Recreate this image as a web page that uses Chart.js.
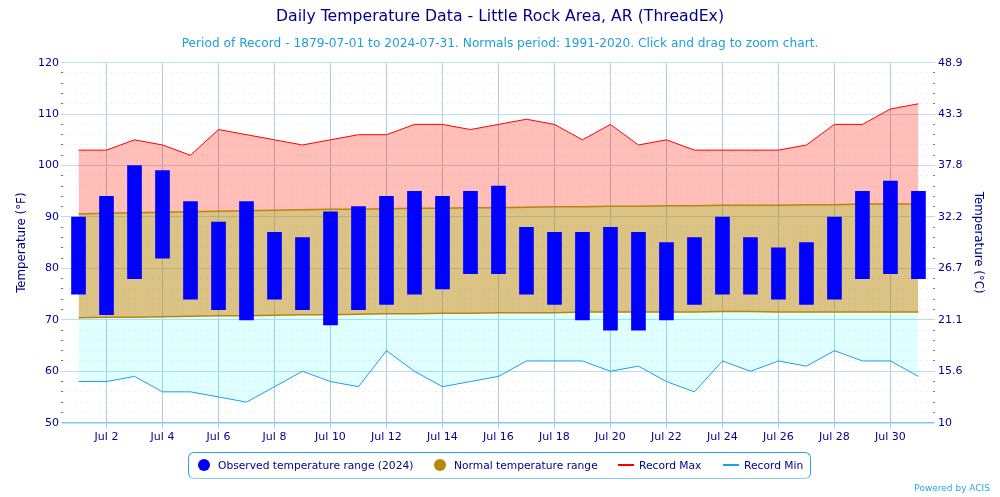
<!DOCTYPE html>
<html>
<head>
<meta charset="utf-8">
<script src="https://cdn.jsdelivr.net/npm/chart.js@4"></script>
<style>
  html, body { margin: 0; padding: 0; background: #fff; overflow: hidden; }
  #wrap { position: relative; width: 1000px; height: 497px; font-family: "DejaVu Sans", sans-serif; }
  #chart { display: block; }
  #legend { position: absolute; left: 188px; top: 452px; width: 621px; height: 25px;
    border: 1px solid #2aa5e8; border-bottom-color: #8ccdf2; border-radius: 6px; color: #00008b; font-size: 10.7px; }
  #legend span { position: absolute; top: 6px; white-space: nowrap; }
  #legend i { position: absolute; display: block; }
  #credit { position: absolute; right: 10px; top: 483px; color: #2aa5e8; font-size: 9px; }
</style>
</head>
<body>
<div id="wrap">
  <canvas id="chart" width="1000" height="497"></canvas>
  <div id="legend"></div>
  <div id="credit">Powered by ACIS</div>
</div>
<script>
// values, one per day of July
const days = [1,2,3,4,5,6,7,8,9,10,11,12,13,14,15,16,17,18,19,20,21,22,23,24,25,26,27,28,29,30,31];
const obsMax = [90,94,100,99,93,89,93,87,86,91,92,94,95,94,95,96,88,87,87,88,87,85,86,90,86,84,85,90,95,97,95];
const obsMin = [75,71,78,82,74,72,70,74,72,69,72,73,75,76,79,79,75,73,70,68,68,70,73,75,75,74,73,74,78,79,78];
const recordMax = [103,103,105,104,102,107,106,105,104,105,106,106,108,108,107,108,109,108,105,108,104,105,103,103,103,103,104,108,108,111,112];
const recordMin = [58,58,59,56,56,55,54,57,60,58,57,64,60,57,58,59,62,62,62,60,61,58,56,62,60,62,61,64,62,62,59];
const normalMax = [90.6,90.7,90.8,90.9,91,91.1,91.2,91.3,91.4,91.5,91.5,91.6,91.7,91.7,91.8,91.8,91.9,92,92,92.1,92.1,92.2,92.2,92.3,92.3,92.3,92.4,92.4,92.5,92.5,92.5];
const normalMin = [70.4,70.5,70.5,70.6,70.7,70.8,70.8,70.9,71,71,71.1,71.2,71.2,71.3,71.3,71.4,71.4,71.4,71.5,71.5,71.5,71.5,71.5,71.6,71.6,71.5,71.5,71.5,71.5,71.5,71.5];
const xTickDays = [2,4,6,8,10,12,14,16,18,20,22,24,26,28,30];
const yTicks = [50,52,54,56,58,60,62,64,66,68,70,72,74,76,78,80,82,84,86,88,90,92,94,96,98,100,102,104,106,108,110,112,114,116,118,120];
const seriesNames = ["Observed temperature range (2024)", "Normal temperature range", "Record Max", "Record Min"];

const navy = "#00008b";
const gridBlue = "#bcdcf0";
const gridBlueX = "#a8cce6";

function pts(arr) {
  return arr.map(function (v, i) { return { x: days[i], y: v }; });
}

const isMajor = function (v) { return v % 10 === 0; };
const yGrid = {
  color: function (c) { return isMajor(c.tick.value) ? gridBlue : "rgba(170,170,170,0.35)"; },
  lineWidth: 1,
  tickColor: function (c) { return isMajor(c.tick.value) ? gridBlue : "#777"; },
  tickLength: 2,
  tickWidth: 1
};
const yBorder = {
  display: false,
  dash: function (c) { return c.tick && isMajor(c.tick.value) ? [] : [1, 5]; }
};

const config = {
  type: "bar",
  data: {
    datasets: [
      { type: "bar", label: seriesNames[0], data: days.map(function (d, i) { return { x: d, y: [obsMin[i], obsMax[i]] }; }),
        backgroundColor: "#0000ff", borderWidth: 0, barThickness: 14, order: 1 },
      { type: "line", label: seriesNames[2], data: pts(recordMax), borderColor: "#ff0000", borderWidth: 1,
        backgroundColor: "rgba(255,20,0,0.28)", fill: { target: 3 }, pointRadius: 0, tension: 0, order: 5 },
      { type: "line", label: seriesNames[3], data: pts(recordMin), borderColor: "#1e9ee8", borderWidth: 1,
        backgroundColor: "rgba(0,255,255,0.12)", fill: { target: 4 }, pointRadius: 0, tension: 0, order: 5 },
      { type: "line", label: "Normal max", data: pts(normalMax), borderColor: "#b8860b", borderWidth: 1.5,
        backgroundColor: "rgba(184,134,11,0.5)", fill: { target: 4 }, pointRadius: 0, tension: 0, order: 4 },
      { type: "line", label: "Normal min", data: pts(normalMin), borderColor: "#b8860b", borderWidth: 1.5,
        fill: false, pointRadius: 0, tension: 0, order: 4 }
    ]
  },
  options: {
    responsive: false,
    animation: false,
    layout: { padding: { top: 0, bottom: 44.3, left: 0, right: 0 } },
    plugins: {
      legend: { display: false },
      tooltip: { enabled: false },
      title: { display: true, text: "Daily Temperature Data - Little Rock Area, AR (ThreadEx)", color: navy,
        font: { family: "DejaVu Sans", size: 15.7, weight: "normal" }, padding: { top: 8, bottom: 10 } },
      subtitle: { display: true, text: "Period of Record - 1879-07-01 to 2024-07-31. Normals period: 1991-2020. Click and drag to zoom chart.",
        color: "#1e9ed8", font: { family: "DejaVu Sans", size: 12.2, weight: "normal" }, padding: { top: 0, bottom: 11.2 } }
    },
    scales: {
      x: {
        type: "linear", min: 0.446, max: 31.52, offset: false,
        afterBuildTicks: function (s) { s.ticks = xTickDays.map(function (v) { return { value: v }; }); },
        afterFit: function (s) { s.height = 30; },
        grid: { color: gridBlueX, tickColor: gridBlueX, tickLength: 6, offset: false },
        border: { color: "#7ccaf0", width: 1.5 },
        ticks: { color: navy, font: { family: "DejaVu Sans", size: 11 }, maxRotation: 0, autoSkip: false, padding: 2,
          callback: function (v) { return "Jul " + v; } }
      },
      y: {
        position: "left", min: 50, max: 120,
        afterBuildTicks: function (s) { s.ticks = yTicks.map(function (v) { return { value: v }; }); },
        afterFit: function (s) { s.width = 63; },
        grid: yGrid,
        border: yBorder,
        title: { display: true, text: "Temperature (°F)", color: navy, font: { family: "DejaVu Sans", size: 11.8, weight: "normal" }, padding: { top: 15, bottom: 0 } },
        ticks: { color: navy, font: { family: "DejaVu Sans", size: 11 }, autoSkip: false, padding: 2,
          callback: function (v) { return isMajor(v) ? String(v) : ""; } }
      },
      yC: {
        position: "right", min: 50, max: 120,
        afterBuildTicks: function (s) { s.ticks = yTicks.map(function (v) { return { value: v }; }); },
        afterFit: function (s) { s.width = 67; },
        grid: { drawOnChartArea: false, tickColor: yGrid.tickColor, tickLength: 2 },
        border: { display: false },
        title: { display: true, text: "Temperature (°C)", color: navy, font: { family: "DejaVu Sans", size: 11.8, weight: "normal" }, padding: { top: 15, bottom: 0 } },
        ticks: { color: navy, font: { family: "DejaVu Sans", size: 11 }, autoSkip: false, padding: 3,
          callback: function (v) { return isMajor(v) ? String(Number(((v - 32) * 5 / 9).toFixed(1))) : ""; } }
      }
    }
  }
};

new Chart(document.getElementById("chart"), config);

// legend box, drawn by hand because the markers sit at uneven gaps
const legend = document.getElementById("legend");
const legendItems = [
  { name: seriesNames[0], kind: "dot", color: "#0000ff", mark: 9, text: 29 },
  { name: seriesNames[1], kind: "dot", color: "#b8860b", mark: 245, text: 265 },
  { name: seriesNames[2], kind: "line", color: "#ff0000", mark: 429, text: 450 },
  { name: seriesNames[3], kind: "line", color: "#1e9ee8", mark: 534, text: 555 }
];
legendItems.forEach(function (it) {
  const m = document.createElement("i");
  m.style.left = it.mark + "px";
  m.style.background = it.color;
  if (it.kind === "dot") {
    m.style.top = "6px"; m.style.width = "12px"; m.style.height = "12px"; m.style.borderRadius = "50%";
  } else {
    m.style.top = "11px"; m.style.width = "16px"; m.style.height = "2px";
  }
  legend.appendChild(m);
  const t = document.createElement("span");
  t.style.left = it.text + "px";
  t.textContent = it.name;
  legend.appendChild(t);
});
</script>
</body>
</html>
